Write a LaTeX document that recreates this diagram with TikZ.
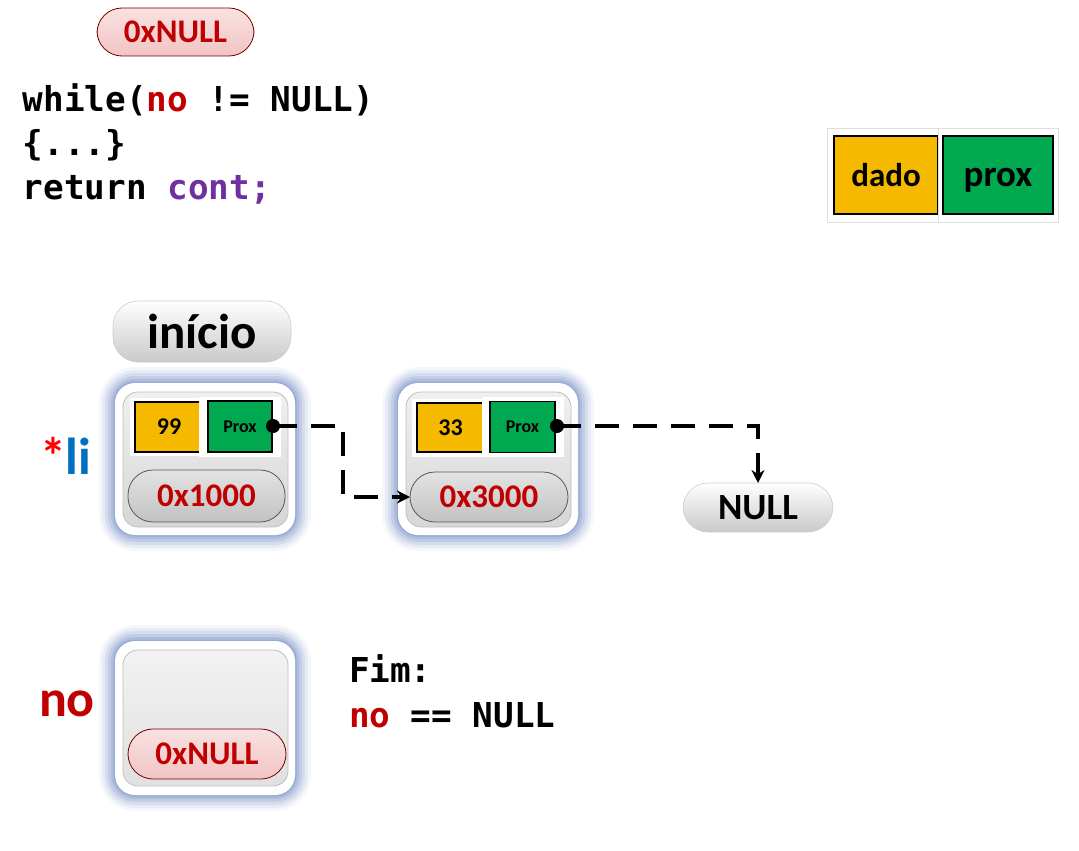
\documentclass[tikz,border=0pt]{standalone}
\usepackage{fontspec}
\setmainfont{Carlito}
\newfontfamily\codefont{DejaVu Sans Mono}
\usetikzlibrary{arrows.meta,calc}
\definecolor{nored}{HTML}{C00000}
\definecolor{contpurple}{HTML}{7030A0}
\definecolor{liblue}{HTML}{0070C0}
\definecolor{gold}{HTML}{F5BA00}
\definecolor{grn}{HTML}{00A94F}
\definecolor{glowblue}{HTML}{3F63AC}
\definecolor{pinkfill}{HTML}{F2C4C4}
\tikzset{
  every node/.style={inner sep=0pt, outer sep=0pt},
  codetext/.style={anchor=base west, font=\codefont\bfseries\fontsize{34.3}{34.3}\selectfont},
  glowbox/.style={minimum width=180pt, minimum height=152pt, rounded corners=20pt, fill=white,
     preaction={draw=glowblue, line width=32pt, opacity=0.05},
     preaction={draw=glowblue, line width=26pt, opacity=0.08},
     preaction={draw=glowblue, line width=20pt, opacity=0.1},
     preaction={draw=glowblue, line width=14pt, opacity=0.13},
     preaction={draw=glowblue, line width=8pt, opacity=0.16},
     preaction={draw=glowblue, line width=3pt, opacity=0.2}},
  innerbox/.style={minimum width=165pt, minimum height=135pt, rounded corners=15pt,
     top color=gray!12, bottom color=gray!32, draw=gray!50, line width=0.8pt},
  graypill/.style={rounded corners=25pt, top color=gray!22, bottom color=gray!48, draw=gray!70!black, line width=0.8pt,
     font=\bfseries\fontsize{33}{33}\selectfont, text=nored},
  whitepill/.style={rounded corners=25pt, top color=white, bottom color=gray!42, draw=gray!40, line width=0.6pt,
     font=\bfseries\fontsize{37}{37}\selectfont},
  pinkpill/.style={rounded corners=25pt, top color=pinkfill!50, bottom color=pinkfill, draw=nored!60!black, line width=0.8pt,
     font=\bfseries\fontsize{33}{33}\selectfont, text=nored},
  databox/.style={fill=gold, draw=black, line width=1.6pt},
  proxbox/.style={fill=grn, draw=black, line width=1.6pt},
  whitebg/.style={fill=white, draw=gray!25, line width=0.5pt},
  dashlink/.style={line width=4.5pt, dash pattern=on 24pt off 14pt, -{Stealth[length=13pt,width=13pt]}},
  dot/.style={circle, fill=black, minimum size=14pt}
}
\begin{document}
\begin{tikzpicture}[x=1pt,y=-1pt]
\useasboundingbox (0,0) rectangle (1079,851);

% top 0xNULL pill
\node[pinkpill, minimum width=157pt, minimum height=48pt] (topnull) at (175.5,32) {0xNULL};

% code
\node[codetext] (code1) at (23,111) {while(\textcolor{nored}{no} != NULL)};
\node[codetext] (code2) at (23,155) {\{...\}};
\node[codetext] (code3) at (23,199) {return \textcolor{contpurple}{cont;}};

% legend
\node[whitebg, minimum width=118pt, minimum height=94pt] (legbgd) at (886,175) {};
\node[databox, minimum width=104pt, minimum height=78pt] (legdado) at (886,175) {};
\node[anchor=base, font=\bfseries\fontsize{33}{33}\selectfont] (legdadotxt) at (886,186) {dado};
\node[whitebg, minimum width=120pt, minimum height=94pt] (legbgp) at (998,175) {};
\node[proxbox, minimum width=110pt, minimum height=78pt] (legprox) at (998,175) {};
\node[anchor=base, font=\bfseries\fontsize{37}{37}\selectfont] (legproxtxt) at (998,186) {prox};

% inicio
\node[whitepill, minimum width=178pt, minimum height=61pt, font=\bfseries\fontsize{49}{49}\selectfont] (inicio) at (202,331.5) {início};

% *li
\node[anchor=base west, font=\bfseries\fontsize{52}{52}\selectfont] (li) at (40,474) {\textcolor{red}{*}\textcolor{liblue}{li}};

% node 1
\node[glowbox] (n1) at (205,459) {};
\node[innerbox] (n1in) at (205.5,459.5) {};
\node[whitebg, draw=none, minimum width=78pt, minimum height=58pt] (n1dbg) at (169,427) {};
\node[databox, minimum width=68pt, minimum height=50pt, font=\bfseries\fontsize{24}{24}\selectfont] (n1d) at (169,427) {99};
\node[whitebg, draw=none, minimum width=82pt, minimum height=60pt] (n1pbg) at (240,427) {};
\node[proxbox, minimum width=64pt, minimum height=51pt, font=\bfseries\fontsize{18}{18}\selectfont] (n1p) at (240,426.5) {Prox};
\node[graypill, minimum width=157pt, minimum height=52pt] (n1addr) at (206.5,496) {0x1000};
\node[dot] (dot1) at (273,426) {};

% node 2
\node[glowbox] (n2) at (488,459) {};
\node[innerbox] (n2in) at (488.5,459.5) {};
\node[whitebg, draw=none, minimum width=78pt, minimum height=58pt] (n2dbg) at (450.5,427.5) {};
\node[databox, minimum width=67pt, minimum height=49pt, font=\bfseries\fontsize{24}{24}\selectfont] (n2d) at (450.5,427.5) {33};
\node[whitebg, draw=none, minimum width=82pt, minimum height=60pt] (n2pbg) at (522.5,427) {};
\node[proxbox, minimum width=65pt, minimum height=51pt, font=\bfseries\fontsize{18}{18}\selectfont] (n2p) at (522.5,427) {Prox};
\node[graypill, minimum width=158pt, minimum height=50pt] (n2addr) at (489,497) {0x3000};
\node[dot] (dot2) at (557,426) {};

% NULL
\node[whitepill, minimum width=150pt, minimum height=49pt] (null) at (758,507.5) {NULL};

% connectors
\coordinate (bend1) at (343,426);
\draw[dashlink] (dot1.center) -- (bend1) |- (n2addr.west);
\draw[dashlink] (dot2.center) -| (null.north);

% no
\node[anchor=base west, font=\bfseries\fontsize{52}{52}\selectfont, text=nored] (nolabel) at (39,716) {no};
\node[glowbox, minimum height=154pt] (n3) at (205,718) {};
\node[innerbox, minimum height=136pt, top color=gray!10, bottom color=gray!24] (n3in) at (205.5,718) {};
\node[pinkpill, minimum width=158pt, minimum height=50pt] (n3addr) at (207,754) {0xNULL};

% Fim
\node[codetext] (fim1) at (349,682) {Fim:};
\node[codetext] (fim2) at (349,727) {\textcolor{nored}{no} == NULL};
\end{tikzpicture}
\end{document}
